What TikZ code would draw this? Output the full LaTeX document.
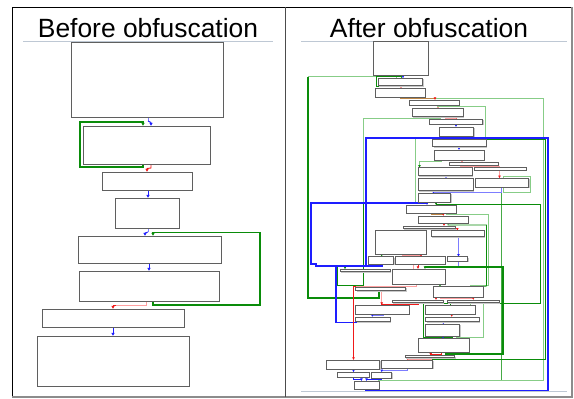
\documentclass[tikz,border=0pt]{standalone}
\usepackage{fontspec}
\setmainfont{Liberation Sans}
\usetikzlibrary{arrows.meta,backgrounds,shadows}
\definecolor{dgr}{RGB}{10,140,10}
\definecolor{mgr}{RGB}{70,170,70}
\definecolor{lgr}{RGB}{135,205,135}
\definecolor{blu}{RGB}{30,30,255}
\definecolor{lblu}{RGB}{125,125,255}
\definecolor{rd}{RGB}{240,25,25}
\definecolor{pnk}{RGB}{255,160,160}
\definecolor{org}{RGB}{190,135,70}
\definecolor{bxc}{RGB}{95,95,95}
\definecolor{shd}{RGB}{200,200,200}
\definecolor{sepc}{RGB}{190,200,212}
\tikzset{
  bx/.style={draw=bxc, line width=0.9pt, inner sep=0pt, outer sep=0pt, fill=white,
    drop shadow={shadow xshift=1pt,shadow yshift=-1pt,fill=shd,opacity=1}},
  tp/.style={-{Latex[length=2.6pt,width=2.8pt]}},
  tpb/.style={-{Latex[length=2.6pt,width=2.8pt,color=blu]}},
  tpr/.style={-{Latex[length=2.6pt,width=2.8pt,color=rd]}},
  tpg/.style={-{Latex[length=2.6pt,width=2.8pt,color=dgr]}},
  tl/.style={-{Latex[length=3.2pt,width=3.6pt]}},
  bigblue/.style={blu, line width=2pt},
  title/.style={anchor=base, inner sep=0pt, font=\fontsize{26.4}{30}\selectfont},
  seprule/.style={draw=sepc, line width=0.8pt}
}
\newcommand\bx[5]{\node[bx,minimum width={#4-#2},minimum height={#5-#3}] (#1) at ({(#2+#4)/2},{(#3+#5)/2}) {};}
\begin{document}
\begin{tikzpicture}[x=1pt,y=-1pt,line join=miter]
\useasboundingbox (0,0) rectangle (574,399);
% frame
\draw[black, line width=1pt] (12,397) -- (12,7) -- (572,7);
\draw[black!45, line width=1.6pt] (572,7) -- (572,397) -- (12,397);
\draw[black!70, line width=1.8pt] (285.5,7) -- (285.5,397);
% titles
\node[title] (t1) at (148,37) {Before obfuscation};
\node[title] (t2) at (429,37) {After obfuscation};
\draw[seprule] (23,41) -- (273,41);
\draw[seprule] (301,41) -- (567,41);
\draw[seprule] (301,391.6) -- (567,391.6);
% ---------- left panel boxes
\bx{L1}{71}{42}{223}{117}
\bx{L2}{83}{126}{210}{164}
\bx{L3}{102}{172}{192}{190}
\bx{L4}{115}{198}{179}{228}
\bx{L5}{78}{236}{221}{263}
\bx{L6}{79}{271}{219}{301}
\bx{L7}{42}{309}{184}{327}
\bx{L8}{37}{336}{189}{386}
% ---------- right panel boxes
\bx{R1}{373.3}{41.7}{428.3}{75.3}
\bx{R2}{378.3}{78.3}{422.7}{85.7}
\bx{R3}{375.3}{88.3}{425.3}{97.3}
\bx{R4}{409.3}{100}{459}{105}
\bx{R5}{412.3}{108.3}{463}{116.7}
\bx{R6}{429.3}{119}{482.7}{124.3}
\bx{R7}{439.3}{127}{473.7}{136}
\bx{R8}{432.7}{139.3}{486}{146.7}
\bx{R9}{434.3}{150}{484.3}{160}
\bx{R10}{449}{162.3}{498.3}{165}
\bx{R11}{474}{167.7}{526}{170.3}
\bx{R12}{418.3}{167.7}{472.3}{175.7}
\bx{R13}{418}{178.3}{473}{190.7}
\bx{R14}{475}{178.3}{528.7}{187.3}
\bx{R15}{418.3}{193.3}{450.7}{202.3}
\bx{R16}{406.3}{205}{456}{213.3}
\bx{R17}{418.3}{216}{468.3}{223.3}
\bx{R18}{403.3}{226}{455.3}{228.7}
\bx{R19}{431.3}{230.7}{484.3}{236.7}
\bx{R20}{375.7}{230.7}{426}{254}
\bx{R21}{368.3}{256.7}{393.7}{264.3}
\bx{R21b}{395.7}{256.7}{445}{264.3}
\bx{R22}{447.3}{256.7}{467.7}{261.3}
\bx{R23}{340}{269.3}{390}{271.7}
\bx{R24}{392.3}{269}{445.3}{284.3}
\bx{R25}{355.7}{287.3}{405.7}{290.7}
\bx{R26}{433.3}{286.7}{483}{297.3}
\bx{R27}{392.3}{300}{443}{302.7}
\bx{R28}{447}{300}{499.3}{302.7}
\bx{R29}{355.7}{305}{409.3}{314.3}
\bx{R30}{425.7}{305}{475.3}{314.3}
\bx{R31}{355.7}{317}{390}{321.7}
\bx{R32}{425.7}{317}{479.3}{321.7}
\bx{R33}{425.7}{324.3}{459.7}{336}
\bx{R34}{418.7}{338.7}{469}{352.3}
\bx{R35}{405}{355.7}{454.7}{357.7}
\bx{R36}{326.3}{360}{379.7}{369.3}
\bx{R37}{381.7}{360}{432.7}{368.3}
\bx{R38}{337.3}{372.3}{369}{377.3}
\bx{R39}{371.3}{372.3}{391.7}{378.3}
\bx{R40}{354.3}{381}{379.3}{389.3}
\coordinate (fe1) at (458.5,267.3);
\begin{scope}[on background layer]
% ---------- left panel connectors
\draw[lblu, line width=0.9pt] (L1.south -| 148,0) -- (148,121);
\draw[blu, line width=0.9pt, tl] (148,121) -- (151,122.5) -- (L2.north -| 151,0);
\draw[dgr, line width=1.4pt, tl] (L2.south -| 143,0) -- (143,167) -- (80,167) -- (80,122) -- (143,122) -- (L2.north -| 143,0);
\draw[rd, line width=0.9pt, tl] (L2.south -| 151,0) -- (151,168) -- (147,168.5) -- (L3.north -| 147,0);
\draw[blu, line width=0.9pt, tl] (L3.south -| 148,0) -- (L4.north -| 148,0);
\draw[lblu, line width=0.9pt] (L4.south -| 148,0) -- (148,232);
\draw[blu, line width=0.9pt, tl] (148,232) -- (145,233) -- (L5.north -| 145,0);
\draw[dgr, line width=1.4pt, tl] (L6.south -| 153,0) -- (153,305) -- (260,305) -- (260,232.7) -- (153,232.7) -- (L5.north -| 153,0);
\draw[blu, line width=0.9pt, tl] (L5.south -| 149,0) -- (L6.north -| 149,0);
\draw[pnk, line width=0.9pt] (L6.south -| 146,0) -- (146,305.7) -- (116,305.7);
\draw[rd, line width=0.9pt, tl] (116,305.7) -- (113,305.7) -- (L7.north -| 113,0);
\draw[blu, line width=0.9pt, tl] (L7.south -| 113,0) -- (L8.north -| 113,0);
% ---------- right panel connectors
\begin{scope}[line width=1pt]
\draw[mgr] (R14.south -| 501.5,0) -- (501.5,380.5) -- (379,380.5);
\draw[lgr] (R3.south -| 402,0) -- (402,98.5) -- (543.5,98.5) -- (543.5,380.5) -- (378,380.5) -- (R40.north -| 378,0);
\draw[dgr, line width=2pt] (R25.south -| 378.5,0) -- (378.5,298) -- (308,298) -- (308,76.5);
\draw[lgr] (308,76.5) -- (396,76.5) -- (R2.north -| 396,0);
\draw[dgr, tp] (R2.south -| 398.5,0) -- (398.5,86.5) -- (376,86.5) -- (376,76.5) -- (401.5,76.5) -- (R2.north -| 401.5,0);
\draw[blu, tp] (R1.south -| 403,0) -- (R2.north -| 403,0);
\draw[rd, tp] (R2.south -| 401,0) -- (R3.north -| 401,0);
\draw[org, tpr] (R3.south -| 400,0) -- (400,98.5) -- (435,98.5) -- (R4.north -| 435,0);
\draw[rd, tp] (R4.south -| 438,0) -- (R5.north -| 438,0);
\draw[lgr] (R4.south -| 437,0) -- (437,106.5) -- (485,106.5) -- (R8.north -| 485,0);
\draw[pnk, tpr] (R5.south -| 445,0) -- (445,118) -- (456.7,118) -- (R6.north -| 456.7,0);
\draw[lgr] (R5.south -| 440,0) -- (440,118.5) -- (363.5,118.5) -- (363.5,203.3);
\draw[dgr, tp] (363.5,203.3) -- (363.5,285.5) -- (337.5,285.5) -- (337.5,266.5) -- (345,266.5) -- (R23.north -| 345,0);
\draw[blu, tp] (R6.south -| 456,0) -- (R7.north -| 456,0);
\draw[dgr] (R35.south -| 432,0) -- (432,359.5) -- (545.5,359.5) -- (545.5,139.5) -- (484,139.5) -- (R8.north -| 484,0);
\draw[dgr, tpg] (R28.south -| 485,0) -- (485,303.5) -- (540.5,303.5) -- (540.5,204.5) -- (436,204.5) -- (R16.north -| 436,0);
\draw[lgr] (R15.south -| 425,0) -- (425,203.5) -- (415.5,203.5) -- (415.5,138.5) -- (440,138.5) -- (R8.north -| 440,0);
\draw[bigblue, tp] (R40.south -| 366,0) -- (366,390.5) -- (548,390.5) -- (548,138) -- (458,138) -- (R8.north -| 458,0);
\draw[bigblue, tp] (R7.south -| 456,0) -- (456,138) -- (366,138) -- (366,203) -- (427,203) -- (R16.north -| 427,0);
\draw[bigblue] (R21.south -| 381.7,0) -- (381.7,265.5) -- (315.7,265.5) -- (315.7,264) -- (311,264) -- (311,203) -- (366,203);
\draw[bigblue] (366,203) -- (366,265.5);
\draw[blu, line width=1.4pt] (R31.south -| 372.3,0) -- (372.3,322.7) -- (336,322.7) -- (336,265.5);
\draw[blu, tp] (R8.south -| 459,0) -- (R9.north -| 459,0);
\draw[lgr, tpg] (R9.south -| 441.5,0) -- (441.5,161.5) -- (419.5,161.5) -- (R12.north -| 419.5,0);
\draw[rd, tp] (R9.south -| 462,0) -- (R10.north -| 462,0);
\draw[pnk, tpr] (R10.south -| 460,0) -- (460,166.5) -- (499.5,166.5) -- (R14.north -| 499.5,0);
\draw[lgr] (R14.south -| 503,0) -- (503,192.5) -- (530.5,192.5) -- (530.5,176.5) -- (503,176.5) -- (R14.north -| 503,0);
\draw[lblu, tpb] (R14.south -| 501.5,0) -- (501.5,192.5) -- (433.3,192.5) -- (R15.north -| 433.3,0);
\draw[blu, tp] (R12.south -| 446,0) -- (R13.north -| 446,0);
\draw[blu, tp] (R13.south -| 433.3,0) -- (R15.north -| 433.3,0);
\draw[org, tpr] (R16.south -| 431.7,0) -- (431.7,214.5) -- (443.3,214.5) -- (R17.north -| 443.3,0);
\draw[lgr] (R16.south -| 446,0) -- (446,214.5) -- (488.5,214.5) -- (488.5,285.5) -- (470,285.5) -- (R26.north -| 470,0);
\draw[dgr, line width=0.8pt] (R17.south -| 448,0) -- (448,225) -- (486.5,225) -- (486.5,286) -- (R26.north -| 481,0);
\draw[rd, tp] (R17.south -| 444,0) -- (R18.north -| 444,0);
\draw[pnk, tpr] (R18.south -| 445,0) -- (445,230) -- (457.3,230) -- (R19.north -| 457.3,0);
\draw[dgr, tp] (R18.south -| 405,0) -- (R20.north -| 405,0);
\draw[lblu, tpb] (R19.south -| 458.5,0) -- (R22.north -| 458.5,0);
\draw[lblu] (R22.south -| 458.5,0) -- (fe1);
\draw[pnk, line width=1.1pt, tpr] (R20.south -| 402.3,0) -- (402.3,255.3) -- (421,255.3) -- (R21b.north -| 421,0);
\draw[dgr, tp] (R20.south -| 381.7,0) -- (R21.north -| 381.7,0);
\draw[pnk] (R21b.south -| 413,0) -- (R24.north -| 413,0);
\draw[rd, line width=0.8pt, tp] (R21b.south -| 418,0) -- (R24.north -| 418,0);
\draw[pnk] (R24.south -| 416,0) -- (416,286) -- (356,286);
\draw[rd, line width=0.7pt, tp] (356,286) -- (353.5,286) -- (R36.north -| 353.5,0);
\draw[pnk] (R25.south -| 381.7,0) -- (381.7,304);
\draw[rd, line width=0.7pt, tp] (R27.south -| 418,0) -- (418,304) -- (381.7,304) -- (R29.north -| 381.7,0);
\draw[dgr, tp] (R24.south -| 440,0) -- (R26.north -| 440,0);
\draw[pnk, tpr] (R26.south -| 440,0) -- (440,298.5) -- (473.3,298.5) -- (R28.north -| 473.3,0);
\draw[rd, line width=0.8pt, tp] (R26.south -| 436,0) -- (R27.north -| 436,0);
\draw[dgr] (R33.south -| 452,0) -- (452,337.5) -- (423.5,337.5) -- (423.5,303.5) -- (450,303.5) -- (R30.north -| 450,0);
\draw[lgr] (R33.south -| 456,0) -- (456,337.5) -- (483.5,337.5) -- (483.5,303.5) -- (470,303.5) -- (R30.north -| 470,0);
\draw[lblu, tpb] (R29.south -| 383.3,0) -- (383.3,315.5) -- (372.3,315.5) -- (R31.north -| 372.3,0);
\draw[rd, line width=0.8pt, tp] (R30.south -| 451.7,0) -- (R32.north -| 451.7,0);
\draw[lblu, tpb] (R32.south -| 451.7,0) -- (451.7,322.5) -- (443.3,322.5) -- (R33.north -| 443.3,0);
\draw[blu, tp] (R33.south -| 443,0) -- (R34.north -| 443,0);
\draw[rd, line width=0.8pt, tp] (R34.south -| 441.7,0) -- (441.7,354.5) -- (430.7,354.5) -- (R35.north -| 430.7,0);
\draw[dgr, line width=2pt, tp] (R34.south -| 446,0) -- (446,354) -- (503,354) -- (503,267) -- (425,267) -- (R24.north -| 425,0);
\draw[pnk, tpr] (R35.south -| 431,0) -- (431,359) -- (407.3,359) -- (R37.north -| 407.3,0);
\draw[blu, tp] (R36.south -| 353.5,0) -- (R38.north -| 353.5,0);
\draw[lblu, tpb] (R37.south -| 407.5,0) -- (407.5,370.5) -- (381.7,370.5) -- (R39.north -| 381.7,0);
\draw[blu, tp] (R38.south -| 353.5,0) -- (353.5,379.5) -- (361.5,379.5) -- (R40.north -| 361.5,0);
\draw[blu, tp] (R39.south -| 381.7,0) -- (381.7,379.8) -- (366.5,379.8) -- (R40.north -| 366.5,0);
\end{scope}
\end{scope}
\end{tikzpicture}
\end{document}
